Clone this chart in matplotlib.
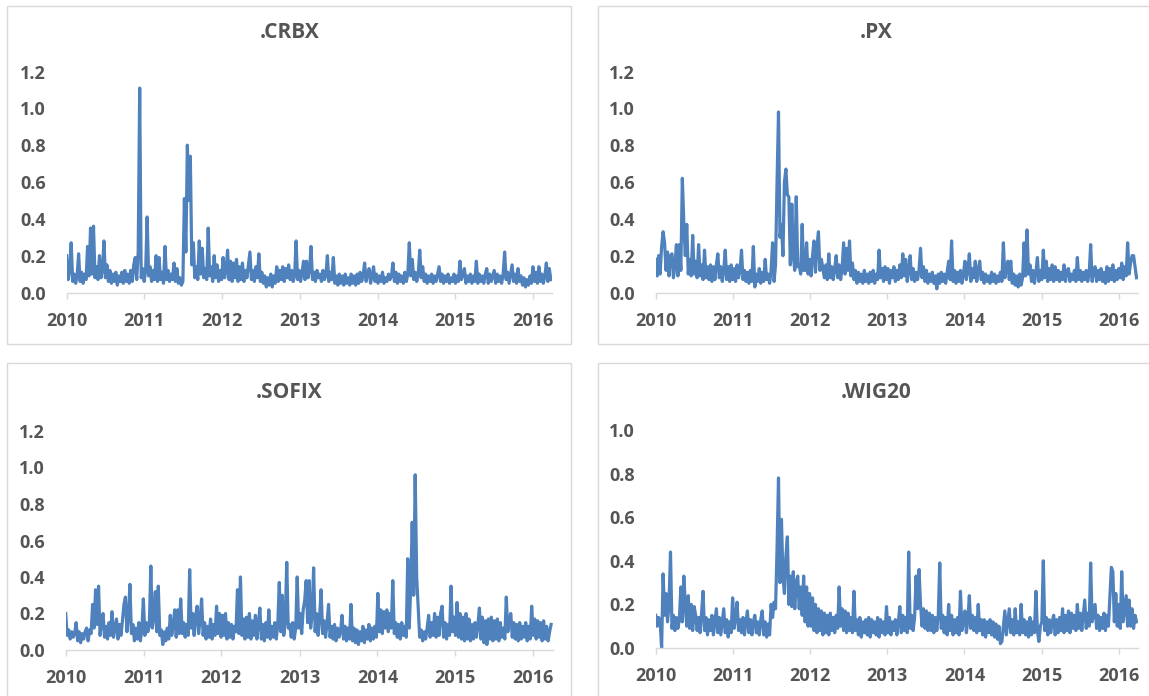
import numpy as np
import pandas as pd
import matplotlib
matplotlib.use('Agg')
import matplotlib.pyplot as plt
import matplotlib.dates as mdates
import matplotlib.patches as patches

plt.rcParams['font.family'] = ['Open Sans', 'DejaVu Sans']

# weekly readings of the four volatility series, Jan 2010 -> Mar 2016
# (one row = roughly one quarter)
crbx = [0.20, 0.07, 0.12, 0.27, 0.06, 0.10, 0.05, 0.09, 0.21, 0.06, 0.11, 0.05, 0.10,
        0.07, 0.25, 0.09, 0.35, 0.10, 0.36, 0.08, 0.14, 0.07, 0.20, 0.08, 0.12, 0.28,
        0.08, 0.15, 0.06, 0.12, 0.05, 0.10, 0.06, 0.11, 0.04, 0.09, 0.06, 0.11, 0.05,
        0.12, 0.06, 0.10, 0.05, 0.12, 0.06, 0.15, 0.19, 0.07, 0.22, 1.11, 0.08, 0.13,
        0.06, 0.12, 0.41, 0.09, 0.14, 0.06, 0.12, 0.07, 0.20, 0.06, 0.19, 0.07, 0.11,
        0.05, 0.25, 0.07, 0.12, 0.06, 0.10, 0.07, 0.16, 0.06, 0.13, 0.05, 0.08, 0.04,
        0.06, 0.51, 0.22, 0.80, 0.50, 0.74, 0.15, 0.27, 0.08, 0.14, 0.07, 0.28, 0.10,
        0.24, 0.08, 0.13, 0.07, 0.35, 0.09, 0.14, 0.06, 0.20, 0.08, 0.15, 0.06, 0.12,
        0.07, 0.19, 0.08, 0.12, 0.23, 0.07, 0.17, 0.06, 0.16, 0.08, 0.18, 0.06, 0.14,
        0.07, 0.16, 0.06, 0.12, 0.08, 0.15, 0.22, 0.07, 0.12, 0.06, 0.14, 0.08, 0.21,
        0.06, 0.11, 0.05, 0.09, 0.03, 0.08, 0.04, 0.10, 0.03, 0.09, 0.05, 0.14, 0.06,
        0.12, 0.07, 0.14, 0.06, 0.13, 0.08, 0.15, 0.07, 0.12, 0.06, 0.09, 0.28, 0.07,
        0.12, 0.06, 0.11, 0.17, 0.07, 0.17, 0.08, 0.12, 0.25, 0.07, 0.11, 0.06, 0.12,
        0.08, 0.10, 0.06, 0.12, 0.07, 0.09, 0.20, 0.06, 0.11, 0.07, 0.19, 0.05, 0.09,
        0.04, 0.10, 0.05, 0.09, 0.04, 0.10, 0.05, 0.08, 0.04, 0.10, 0.05, 0.09, 0.04,
        0.10, 0.05, 0.11, 0.06, 0.09, 0.16, 0.06, 0.10, 0.13, 0.05, 0.09, 0.14, 0.06,
        0.10, 0.05, 0.09, 0.06, 0.11, 0.05, 0.08, 0.06, 0.10, 0.07, 0.09, 0.16, 0.06,
        0.11, 0.05, 0.10, 0.06, 0.09, 0.05, 0.11, 0.06, 0.10, 0.27, 0.09, 0.18, 0.07,
        0.11, 0.06, 0.10, 0.23, 0.08, 0.14, 0.06, 0.10, 0.05, 0.09, 0.06, 0.10, 0.05,
        0.09, 0.06, 0.10, 0.14, 0.06, 0.10, 0.05, 0.09, 0.06, 0.10, 0.05, 0.08, 0.06,
        0.10, 0.05, 0.09, 0.06, 0.17, 0.07, 0.10, 0.13, 0.05, 0.09, 0.06, 0.10, 0.05,
        0.09, 0.06, 0.17, 0.05, 0.10, 0.06, 0.09, 0.05, 0.10, 0.13, 0.05, 0.10, 0.06,
        0.09, 0.12, 0.05, 0.10, 0.06, 0.09, 0.05, 0.10, 0.22, 0.07, 0.11, 0.05, 0.10,
        0.15, 0.06, 0.10, 0.05, 0.13, 0.06, 0.09, 0.04, 0.08, 0.03, 0.07, 0.04, 0.09,
        0.05, 0.14, 0.06, 0.11, 0.05, 0.14, 0.06, 0.10, 0.05, 0.09, 0.16, 0.06, 0.13,
        0.07]

px = [0.18, 0.09, 0.20, 0.10, 0.25, 0.33, 0.27, 0.12, 0.22, 0.09, 0.20, 0.21, 0.08,
      0.15, 0.26, 0.09, 0.26, 0.12, 0.62, 0.38, 0.20, 0.37, 0.10, 0.18, 0.09, 0.31,
      0.10, 0.17, 0.08, 0.26, 0.09, 0.15, 0.07, 0.23, 0.08, 0.14, 0.07, 0.15, 0.06,
      0.14, 0.07, 0.15, 0.21, 0.08, 0.14, 0.06, 0.12, 0.23, 0.07, 0.14, 0.06, 0.15,
      0.07, 0.13, 0.06, 0.15, 0.08, 0.12, 0.23, 0.07, 0.12, 0.06, 0.11, 0.05, 0.12,
      0.06, 0.25, 0.03, 0.10, 0.06, 0.13, 0.05, 0.11, 0.06, 0.18, 0.07, 0.10, 0.05,
      0.12, 0.27, 0.06, 0.15, 0.59, 0.98, 0.30, 0.37, 0.20, 0.60, 0.67, 0.53, 0.52,
      0.15, 0.48, 0.20, 0.12, 0.52, 0.14, 0.15, 0.10, 0.37, 0.12, 0.12, 0.27, 0.10,
      0.18, 0.09, 0.20, 0.28, 0.11, 0.25, 0.33, 0.12, 0.18, 0.13, 0.08, 0.15, 0.07,
      0.21, 0.08, 0.14, 0.07, 0.13, 0.20, 0.08, 0.15, 0.07, 0.13, 0.27, 0.10, 0.24,
      0.12, 0.28, 0.09, 0.16, 0.07, 0.12, 0.05, 0.11, 0.06, 0.10, 0.05, 0.12, 0.06,
      0.10, 0.05, 0.11, 0.06, 0.12, 0.05, 0.10, 0.07, 0.23, 0.08, 0.13, 0.06, 0.14,
      0.07, 0.13, 0.05, 0.12, 0.08, 0.14, 0.06, 0.12, 0.07, 0.15, 0.08, 0.21, 0.09,
      0.18, 0.06, 0.12, 0.20, 0.07, 0.13, 0.06, 0.11, 0.07, 0.12, 0.24, 0.08, 0.14,
      0.06, 0.12, 0.05, 0.10, 0.06, 0.11, 0.05, 0.09, 0.02, 0.10, 0.05, 0.11, 0.06,
      0.10, 0.05, 0.11, 0.17, 0.07, 0.28, 0.06, 0.12, 0.05, 0.11, 0.06, 0.12, 0.05,
      0.10, 0.17, 0.07, 0.12, 0.21, 0.06, 0.13, 0.08, 0.17, 0.06, 0.12, 0.17, 0.07,
      0.11, 0.05, 0.10, 0.06, 0.09, 0.05, 0.11, 0.06, 0.10, 0.05, 0.09, 0.06, 0.11,
      0.06, 0.27, 0.08, 0.12, 0.17, 0.07, 0.17, 0.05, 0.10, 0.04, 0.09, 0.03, 0.10,
      0.04, 0.08, 0.27, 0.09, 0.34, 0.10, 0.15, 0.06, 0.12, 0.05, 0.11, 0.19, 0.06,
      0.12, 0.07, 0.23, 0.08, 0.17, 0.06, 0.13, 0.07, 0.15, 0.06, 0.14, 0.07, 0.12,
      0.06, 0.11, 0.07, 0.15, 0.06, 0.12, 0.13, 0.06, 0.10, 0.07, 0.12, 0.06, 0.19,
      0.07, 0.12, 0.06, 0.11, 0.07, 0.12, 0.06, 0.10, 0.26, 0.06, 0.12, 0.14, 0.06,
      0.12, 0.07, 0.13, 0.06, 0.11, 0.05, 0.14, 0.06, 0.13, 0.07, 0.15, 0.06, 0.12,
      0.07, 0.13, 0.08, 0.16, 0.07, 0.14, 0.09, 0.27, 0.10, 0.16, 0.20, 0.20, 0.14,
      0.08]

sofix = [0.20, 0.08, 0.11, 0.06, 0.10, 0.07, 0.09, 0.15, 0.05, 0.10, 0.04, 0.09, 0.06,
         0.10, 0.12, 0.05, 0.11, 0.09, 0.25, 0.12, 0.33, 0.14, 0.35, 0.08, 0.15, 0.20,
         0.07, 0.13, 0.06, 0.15, 0.08, 0.21, 0.07, 0.12, 0.17, 0.06, 0.14, 0.08, 0.16,
         0.25, 0.29, 0.10, 0.18, 0.36, 0.09, 0.14, 0.05, 0.12, 0.06, 0.15, 0.05, 0.11,
         0.28, 0.08, 0.15, 0.10, 0.14, 0.46, 0.12, 0.18, 0.32, 0.10, 0.35, 0.08, 0.11,
         0.03, 0.10, 0.05, 0.12, 0.06, 0.19, 0.08, 0.14, 0.22, 0.07, 0.22, 0.09, 0.28,
         0.09, 0.15, 0.07, 0.14, 0.08, 0.44, 0.12, 0.20, 0.08, 0.19, 0.24, 0.09, 0.17,
         0.28, 0.08, 0.15, 0.06, 0.13, 0.07, 0.17, 0.06, 0.14, 0.08, 0.24, 0.09, 0.20,
         0.07, 0.19, 0.08, 0.20, 0.06, 0.15, 0.07, 0.14, 0.06, 0.13, 0.10, 0.33, 0.09,
         0.40, 0.08, 0.17, 0.06, 0.18, 0.07, 0.20, 0.06, 0.16, 0.08, 0.19, 0.06, 0.15,
         0.23, 0.06, 0.14, 0.05, 0.15, 0.07, 0.22, 0.06, 0.13, 0.07, 0.15, 0.06, 0.14,
         0.37, 0.10, 0.30, 0.08, 0.16, 0.48, 0.12, 0.14, 0.07, 0.15, 0.06, 0.12, 0.40,
         0.12, 0.20, 0.09, 0.22, 0.27, 0.38, 0.15, 0.38, 0.12, 0.20, 0.45, 0.10, 0.20,
         0.08, 0.18, 0.33, 0.09, 0.16, 0.07, 0.15, 0.25, 0.07, 0.13, 0.06, 0.14, 0.05,
         0.12, 0.07, 0.10, 0.19, 0.06, 0.13, 0.05, 0.12, 0.06, 0.25, 0.05, 0.12, 0.04,
         0.11, 0.03, 0.10, 0.05, 0.13, 0.04, 0.11, 0.06, 0.14, 0.05, 0.12, 0.06, 0.13,
         0.07, 0.31, 0.10, 0.22, 0.09, 0.21, 0.12, 0.22, 0.10, 0.20, 0.12, 0.38, 0.09,
         0.15, 0.07, 0.14, 0.06, 0.15, 0.08, 0.13, 0.07, 0.50, 0.12, 0.34, 0.70, 0.30,
         0.96, 0.40, 0.24, 0.07, 0.11, 0.05, 0.10, 0.06, 0.12, 0.19, 0.07, 0.15, 0.08,
         0.20, 0.07, 0.18, 0.08, 0.20, 0.24, 0.07, 0.15, 0.06, 0.14, 0.08, 0.35, 0.10,
         0.18, 0.08, 0.26, 0.07, 0.20, 0.06, 0.18, 0.05, 0.20, 0.06, 0.17, 0.05, 0.14,
         0.06, 0.15, 0.07, 0.14, 0.23, 0.06, 0.18, 0.04, 0.16, 0.03, 0.17, 0.06, 0.18,
         0.05, 0.16, 0.06, 0.17, 0.05, 0.15, 0.07, 0.12, 0.06, 0.29, 0.10, 0.16, 0.20,
         0.07, 0.15, 0.06, 0.14, 0.05, 0.15, 0.06, 0.13, 0.07, 0.15, 0.05, 0.13, 0.06,
         0.24, 0.08, 0.17, 0.06, 0.16, 0.07, 0.15, 0.05, 0.16, 0.06, 0.13, 0.05, 0.10,
         0.14]

wig20 = [0.15, 0.10, 0.14, 0.12, 0.00, 0.34, 0.15, 0.25, 0.12, 0.20, 0.44, 0.09, 0.15,
         0.08, 0.14, 0.09, 0.13, 0.28, 0.12, 0.33, 0.20, 0.10, 0.24, 0.09, 0.20, 0.08,
         0.19, 0.15, 0.08, 0.14, 0.07, 0.16, 0.26, 0.08, 0.14, 0.06, 0.13, 0.08, 0.15,
         0.06, 0.12, 0.18, 0.07, 0.14, 0.06, 0.12, 0.18, 0.07, 0.13, 0.05, 0.12, 0.07,
         0.23, 0.09, 0.14, 0.21, 0.08, 0.13, 0.07, 0.14, 0.06, 0.12, 0.17, 0.07, 0.13,
         0.06, 0.12, 0.15, 0.07, 0.12, 0.06, 0.13, 0.17, 0.06, 0.12, 0.05, 0.11, 0.06,
         0.20, 0.14, 0.21, 0.18, 0.45, 0.78, 0.30, 0.59, 0.33, 0.25, 0.42, 0.51, 0.20,
         0.33, 0.19, 0.35, 0.18, 0.30, 0.33, 0.18, 0.28, 0.15, 0.33, 0.12, 0.28, 0.10,
         0.25, 0.10, 0.23, 0.08, 0.20, 0.07, 0.18, 0.08, 0.17, 0.06, 0.16, 0.07, 0.15,
         0.06, 0.16, 0.08, 0.14, 0.07, 0.15, 0.09, 0.28, 0.10, 0.18, 0.08, 0.17, 0.07,
         0.16, 0.08, 0.14, 0.07, 0.26, 0.08, 0.13, 0.06, 0.14, 0.05, 0.12, 0.07, 0.13,
         0.06, 0.14, 0.05, 0.13, 0.07, 0.12, 0.06, 0.14, 0.05, 0.13, 0.07, 0.12, 0.06,
         0.19, 0.07, 0.14, 0.06, 0.12, 0.08, 0.13, 0.06, 0.12, 0.19, 0.07, 0.15, 0.08,
         0.14, 0.07, 0.44, 0.09, 0.15, 0.08, 0.14, 0.33, 0.18, 0.36, 0.20, 0.10, 0.18,
         0.09, 0.17, 0.08, 0.16, 0.08, 0.15, 0.07, 0.14, 0.08, 0.15, 0.39, 0.09, 0.15,
         0.07, 0.14, 0.06, 0.20, 0.08, 0.15, 0.06, 0.13, 0.07, 0.14, 0.06, 0.26, 0.08,
         0.12, 0.17, 0.07, 0.13, 0.24, 0.09, 0.15, 0.08, 0.14, 0.07, 0.20, 0.08, 0.13,
         0.06, 0.13, 0.05, 0.12, 0.07, 0.13, 0.06, 0.12, 0.05, 0.11, 0.04, 0.10, 0.02,
         0.03, 0.10, 0.17, 0.06, 0.12, 0.18, 0.07, 0.13, 0.06, 0.18, 0.07, 0.12, 0.06,
         0.20, 0.07, 0.13, 0.06, 0.12, 0.05, 0.14, 0.06, 0.12, 0.07, 0.26, 0.08, 0.03,
         0.10, 0.12, 0.40, 0.08, 0.14, 0.06, 0.13, 0.07, 0.12, 0.15, 0.06, 0.13, 0.07,
         0.14, 0.08, 0.18, 0.07, 0.15, 0.08, 0.17, 0.07, 0.16, 0.09, 0.15, 0.08, 0.20,
         0.09, 0.16, 0.08, 0.15, 0.22, 0.09, 0.16, 0.10, 0.39, 0.12, 0.16, 0.20, 0.09,
         0.15, 0.08, 0.14, 0.09, 0.16, 0.08, 0.15, 0.10, 0.24, 0.37, 0.35, 0.12, 0.25,
         0.10, 0.20, 0.09, 0.35, 0.12, 0.18, 0.24, 0.10, 0.22, 0.10, 0.18, 0.09, 0.15,
         0.12]

titles = ['.CRBX', '.PX', '.SOFIX', '.WIG20']
series = [crbx, px, sofix, wig20]
ymax = [1.2, 1.2, 1.2, 1.0]

dates = pd.date_range('2010-01-01', periods=len(crbx), freq='7D')

W, H = 1149, 696
fig = plt.figure(figsize=(W / 100, H / 100), dpi=100)

# plot areas in pixels: left, right, y of zero, y of top
boxes = [(66.7, 552.3, 292.5, 71.5),
         (655.7, 1138.0, 292.5, 71.5),
         (65.7, 552.6, 650.0, 431.0),
         (655.7, 1138.0, 648.0, 430.0)]
# outer chart borders (some run off the picture)
frames = [(7, 6, 571, 344), (597.5, 6, 1165, 344),
          (7, 363, 571, 720), (597.5, 363, 1165, 720)]
title_pos = [(290, 33), (876, 33), (289, 392), (876, 392)]

grey = '#555555'
line_col = '#4F81BD'

for k in range(4):
    x0, x1, yb, yt = boxes[k]
    ax = fig.add_axes([x0 / W, 1 - yb / H, (x1 - x0) / W, (yb - yt) / H])
    ax.plot(dates, series[k], color=line_col, lw=2.3, solid_joinstyle='round')
    ax.set_xlim(pd.Timestamp('2010-01-01'), pd.Timestamp('2016-04-01'))
    ax.set_ylim(0, ymax[k])
    ax.set_yticks(np.arange(0, ymax[k] + 0.01, 0.2))
    ax.yaxis.set_major_formatter(plt.FormatStrFormatter('%.1f'))
    ax.xaxis.set_major_locator(mdates.YearLocator())
    ax.xaxis.set_major_formatter(mdates.DateFormatter('%Y'))
    for s in ['top', 'right', 'left']:
        ax.spines[s].set_visible(False)
    ax.spines['bottom'].set_color('#d9d9d9')
    ax.spines['bottom'].set_linewidth(1)
    ax.tick_params(axis='y', length=0, pad=15, labelsize=13, labelcolor=grey)
    ax.tick_params(axis='x', length=4, width=1, color='#d9d9d9', direction='out',
                   pad=10, labelsize=13, labelcolor=grey)
    for lab in ax.get_xticklabels() + ax.get_yticklabels():
        lab.set_fontweight('bold')
    ax.patch.set_alpha(0)

    fx0, fy0, fx1, fy1 = frames[k]
    fig.patches.append(patches.Rectangle((fx0 / W, 1 - fy1 / H), (fx1 - fx0) / W,
                                         (fy1 - fy0) / H, transform=fig.transFigure,
                                         fill=False, edgecolor='#d9d9d9', lw=1))
    tx, ty = title_pos[k]
    fig.text(tx / W, 1 - ty / H, titles[k], ha='center', va='center',
             fontsize=15, fontweight='bold', color=grey)

fig.savefig('out.png', dpi=100)
